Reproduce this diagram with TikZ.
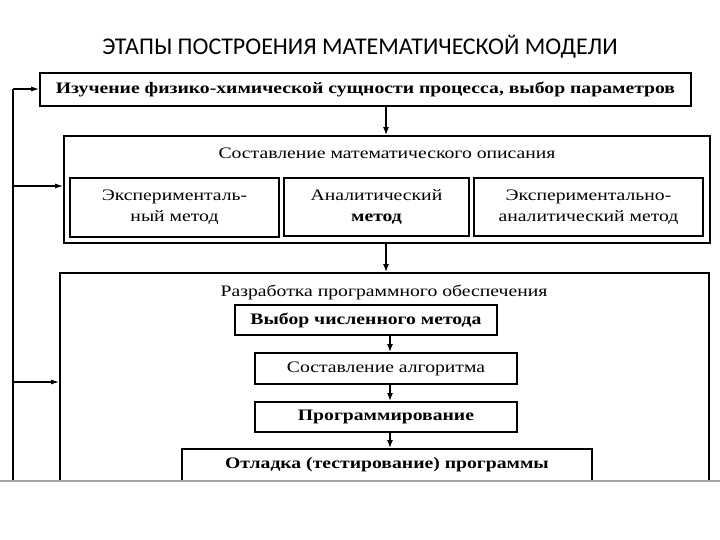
\documentclass[tikz,border=0pt]{standalone}
\usepackage{fontspec}
\setmainfont[FakeStretch=1.23]{Liberation Serif}
\newfontfamily\titlefont{Carlito}
\usetikzlibrary{arrows.meta}
\begin{document}
\begin{tikzpicture}[x=1pt,y=-1pt,
  box/.style={draw=black,line width=1.8pt,inner sep=0pt,align=center},
  frame/.style={draw=black,line width=1.8pt,inner sep=0pt},
  arr/.style={line width=1.4pt,-{Latex[length=8pt,width=6pt]}},
  fb/.style={line width=1.1pt,-{Latex[length=8pt,width=5pt]}},
  dtext/.style={font=\fontsize{16}{21}\selectfont},
  btext/.style={font=\fontsize{16}{21}\selectfont\bfseries}]
\useasboundingbox (0,0) rectangle (720,540);
\fill[white] (0,0) rectangle (720,540);
\node[font=\titlefont\fontsize{24}{28}\selectfont] (title) at (360,47) {ЭТАПЫ ПОСТРОЕНИЯ МАТЕМАТИЧЕСКОЙ МОДЕЛИ};
\begin{scope}
\clip (0,0) rectangle (720,481);
\node[box,minimum width=651pt,minimum height=33pt,btext] (top) at (365.5,89.5) {Изучение физико-химической сущности процесса, выбор параметров};
\node[frame,minimum width=646pt,minimum height=107pt] (c2) at (387,189.5) {};
\node[dtext] (c2t) at (387,153) {Составление математического описания};
\node[box,minimum width=209pt,minimum height=59pt,dtext] (s1) at (174.5,207.5) {Эксперименталь-\\ный метод};
\node[box,minimum width=185pt,minimum height=58pt,dtext] (s2) at (376.5,207) {Аналитический\\\textbf{метод}};
\node[box,minimum width=229pt,minimum height=58pt,dtext] (s3) at (588.5,207) {Экспериментально-\\аналитический метод};
\node[frame,minimum width=649pt,minimum height=247pt] (c3) at (384.5,396.5) {};
\node[dtext] (c3t) at (384,292) {Разработка программного обеспечения};
\node[box,minimum width=262pt,minimum height=30pt,btext] (b1) at (366,320) {Выбор численного метода};
\node[box,minimum width=262pt,minimum height=31pt,dtext] (b2) at (386,368.5) {Составление алгоритма};
\node[box,minimum width=262pt,minimum height=30pt,btext] (b3) at (386,417) {Программирование};
\node[box,minimum width=410pt,minimum height=32pt,btext] (b4) at (387,465) {Отладка (тестирование) программы};
\coordinate (ax) at (386,0);
\coordinate (bx) at (390,0);
\draw[arr] (top.south -| ax) -- (c2.north -| ax);
\draw[arr] (c2.south -| ax) -- (c3.north -| ax);
\draw[arr] (b1.south -| bx) -- (b2.north -| bx);
\draw[arr] (b2.south -| bx) -- (b3.north -| bx);
\draw[arr] (b3.south -| bx) -- (b4.north -| bx);
\coordinate (fbtop) at (13,89);
\coordinate (fbbot) at (13,540);
\draw[line width=1.8pt] (fbtop) -- (fbbot);
\draw[fb] (fbtop) -- (top.west |- fbtop);
\draw[fb] (fbtop |- 0,186) coordinate (f2) -- (c2.west |- f2);
\draw[fb] (fbtop |- 0,382) coordinate (f3) -- (c3.west |- f3);
\end{scope}
\coordinate (cutl) at (0,481);
\coordinate (cutr) at (720,481);
\draw[line width=2pt,gray!70] (cutl) -- (cutr);
\end{tikzpicture}
\end{document}
